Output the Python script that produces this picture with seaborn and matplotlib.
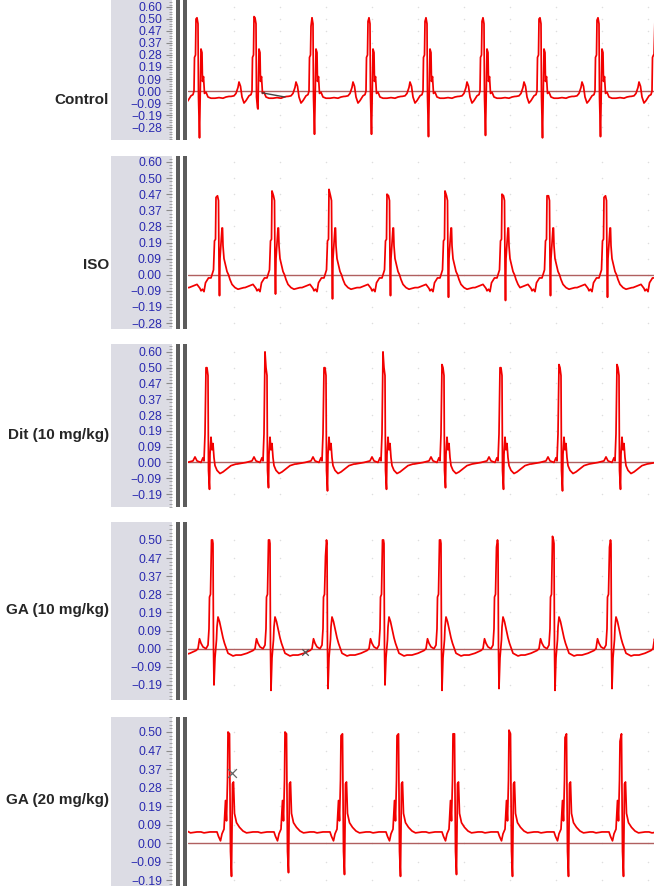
import numpy as np
import pandas as pd
import matplotlib.pyplot as plt
import seaborn as sns
from matplotlib.ticker import FixedLocator, AutoMinorLocator
from matplotlib.patches import Rectangle

sns.set_style("white")
plt.rcParams['font.family'] = ['Liberation Sans', 'DejaVu Sans']

# ---- data -------------------------------------------------------------
groups = ["Control", "ISO", "Dit (10 mg/kg)", "GA (10 mg/kg)", "GA (20 mg/kg)"]

# recorder tick labels, top to bottom (equally spaced on the screen)
labels_control = ["0.60", "0.50", "0.47", "0.37", "0.28", "0.19", "0.09", "0.00", "\u22120.09", "\u22120.19", "\u22120.28"]
labels_iso = ["0.60", "0.50", "0.47", "0.37", "0.28", "0.19", "0.09", "0.00", "\u22120.09", "\u22120.19", "\u22120.28"]
labels_dit = ["0.60", "0.50", "0.47", "0.37", "0.28", "0.19", "0.09", "0.00", "\u22120.09", "\u22120.19"]
labels_ga10 = ["0.50", "0.47", "0.37", "0.28", "0.19", "0.09", "0.00", "\u22120.09", "\u22120.19"]
labels_ga20 = ["0.50", "0.47", "0.37", "0.28", "0.19", "0.09", "0.00", "\u22120.09", "\u22120.19"]

# R-wave times (ms) for each trace
r_control = [-96, 18, 134, 248, 362, 476, 590, 704, 820, 934]
r_iso = [-54, 58, 170, 284, 400, 516, 630, 720, 834, 946]
r_dit = [-98, 38, 156, 274, 392, 510, 626, 744, 860, 976]
r_ga10 = [-66, 48, 162, 276, 390, 504, 618, 730, 844, 958]
r_ga20 = [-30, 82, 196, 308, 420, 532, 644, 756, 866, 978]

# R peak heights and S depths (in scale steps, 0.00 = 0)
rh_control = [6.0, 6.0, 6.2, 5.4, 5.8, 5.8, 5.8, 6.0, 5.9, 3.0]
sd_control = [-3.8, -3.9, -1.4, -3.6, -3.6, -3.8, -3.7, -3.9, -3.8, -3.8]
rh_iso = [4.8, 4.8, 5.2, 5.3, 5.0, 5.2, 5.0, 4.9, 4.8, 4.8]
sd_iso = [-1.3, -1.3, -1.2, -1.5, -1.3, -1.4, -1.6, -1.3, -1.4, -1.3]
rh_dit = [6.0, 6.0, 7.0, 6.0, 7.0, 6.2, 6.0, 6.2, 6.2, 6.0]
sd_dit = [-1.7, -1.7, -1.6, -1.8, -1.7, -1.6, -1.7, -1.8, -1.7, -1.7]
rh_ga10 = [6.0, 6.0, 6.0, 5.1, 6.0, 6.0, 5.6, 6.2, 5.6, 6.0]
sd_ga10 = [-2.2, -2.0, -2.3, -2.2, -2.0, -2.3, -2.2, -2.3, -2.2, -2.2]
rh_ga20 = [6.0, 6.0, 6.0, 5.8, 5.8, 5.9, 6.1, 5.7, 5.5, 6.0]
sd_ga20 = [-1.8, -1.8, -1.6, -1.7, -1.8, -1.7, -1.8, -1.8, -1.8, -1.8]

# one beat: offsets from R (ms) and level (scale steps)
tpl_t_control = [-48, -42, -38, -34, -32, -29, -26, -22, -18, -12, -8, -6, -5, -3, -2, 0, 2, 3, 5, 6, 7, 8, 10, 11, 13, 15, 18, 22, 28, 36, 44, 52, 58, 64]
tpl_v_control = [-0.45, -0.4, -0.2, 0.3, 0.75, 0.4, -0.5, -1.0, -0.8, -0.4, -0.3, 0.0, 2.8, 3.0, 6.0, 6.1, 5.6, -0.5, -3.8, -1.5, 1.0, 3.5, 3.2, 0.8, 1.2, -0.2, -0.1, -0.5, -0.6, -0.6, -0.55, -0.6, -0.5, -0.45]
tpl_t_iso = [-56, -48, -40, -34, -32, -29, -26, -23, -20, -17, -12, -9, -7, -5, -3, -2, 1, 3, 4, 5, 6, 8, 10, 11, 12, 14, 17, 20, 23, 26, 30, 36, 42, 48, 54]
tpl_v_iso = [-0.8, -0.7, -0.6, -0.85, -1.0, -0.9, -1.05, -0.5, -0.35, -0.2, -0.2, 0.1, 0.3, 2.1, 2.2, 4.8, 4.9, 4.6, 0.5, -1.3, 1.0, 2.0, 2.9, 2.9, 1.8, 1.0, 0.6, 0.2, 0.0, -0.3, -0.6, -0.8, -0.9, -0.85, -0.8]
tpl_t_dit = [-58, -40, -28, -24, -20, -12, -8, -6, -4, -2, 0, 2, 3, 5, 6, 8, 10, 12, 14, 16, 20, 26, 32, 40, 48, 58]
tpl_v_dit = [-0.1, 0.0, 0.1, 0.35, 0.1, 0.0, 0.3, 0.1, 1.8, 6.0, 6.0, 5.5, -0.5, -1.7, 0.5, 1.6, 0.8, 1.2, 0.3, -0.2, -0.5, -0.7, -0.6, -0.4, -0.2, -0.1]
tpl_t_ga10 = [-56, -44, -32, -28, -25, -22, -18, -12, -8, -6, -5, -3, -1, 1, 2, 3, 4, 6, 9, 10, 12, 15, 19, 22, 25, 32, 42, 48, 56]
tpl_v_ga10 = [-0.35, -0.25, -0.1, 0.0, 0.55, 0.3, 0.1, 0.0, 0.2, 1.1, 2.85, 3.0, 6.0, 6.0, 5.8, 0.0, -2.2, -0.5, 0.5, 1.2, 1.75, 1.5, 1.0, 0.6, 0.3, -0.25, -0.4, -0.35, -0.35]
tpl_t_ga20 = [-56, -50, -38, -24, -21, -17, -14, -10, -7, -5, -3, -2, 1, 3, 5, 7, 9, 11, 15, 21, 28, 35, 48, 54]
tpl_v_ga20 = [0.6, 0.55, 0.6, 0.6, 0.36, 0.12, 0.5, 0.75, 2.3, 1.2, 3.4, 6.0, 5.9, -0.45, -1.8, 3.2, 3.3, 1.6, 1.1, 0.85, 0.65, 0.55, 0.6, 0.6]

# which template point is the R peak / S trough
i_r = {"Control": 14, "ISO": 15, "Dit (10 mg/kg)": 9, "GA (10 mg/kg)": 12, "GA (20 mg/kg)": 11}
i_s = {"Control": 18, "ISO": 19, "Dit (10 mg/kg)": 13, "GA (10 mg/kg)": 16, "GA (20 mg/kg)": 14}

panels = {
    "Control": (labels_control, 7, r_control, rh_control, sd_control, tpl_t_control, tpl_v_control),
    "ISO": (labels_iso, 7, r_iso, rh_iso, sd_iso, tpl_t_iso, tpl_v_iso),
    "Dit (10 mg/kg)": (labels_dit, 7, r_dit, rh_dit, sd_dit, tpl_t_dit, tpl_v_dit),
    "GA (10 mg/kg)": (labels_ga10, 6, r_ga10, rh_ga10, sd_ga10, tpl_t_ga10, tpl_v_ga10),
    "GA (20 mg/kg)": (labels_ga20, 6, r_ga20, rh_ga20, sd_ga20, tpl_t_ga20, tpl_v_ga20),
}

# ---- layout (pixels) --------------------------------------------------
W, H = 654, 886
spans = [(0, 140, -4.08, 7.58), (156, 329, -3.37, 7.37), (344, 507, -2.82, 7.50),
         (522, 700, -2.83, 6.99), (717, 886, -2.32, 6.81)]
label_y = [100, 265, 435, 610, 800]


def build_trace(rt, rh, sd, tt, tv, ir, isd):
    rows = []
    for k, r in enumerate(rt):
        v = list(tv)
        v[ir] = rh[k]
        v[isd] = sd[k]
        nxt = rt[k + 1] + tt[0] if k + 1 < len(rt) else np.inf
        for dt, val in zip(tt, v):
            if r + dt < nxt:
                rows.append((r + dt, val))
    return pd.DataFrame(rows, columns=["time", "value"])


fig = plt.figure(figsize=(W / 100, H / 100), dpi=100)


def fr(x0, y0, x1, y1):
    return [x0 / W, 1 - y1 / H, (x1 - x0) / W, (y1 - y0) / H]


for g, (y0, y1, lo, hi), ly in zip(groups, spans, label_y):
    labels, top, rt, rh, sd, tt, tv = panels[g]
    pos = [top - i for i in range(len(labels))]

    # grey scale strip
    axg = fig.add_axes(fr(111, y0, 172, y1))
    axg.set_facecolor("#dcdce4")
    for s in axg.spines.values():
        s.set_visible(False)
    axg.set_xticks([])
    axg.set_ylim(lo, hi)
    axg.yaxis.tick_right()
    axg.yaxis.set_major_locator(FixedLocator(pos))
    axg.set_yticklabels(labels)
    axg.yaxis.set_minor_locator(AutoMinorLocator(5))
    axg.tick_params(axis="y", which="major", direction="in", length=4.5, width=0.8,
                    color="#8a8a8a", pad=-7.2, labelsize=8.7, labelcolor="#2a2ab0")
    axg.tick_params(axis="y", which="minor", direction="in", length=2.3, width=0.6, color="#9a9a9a")
    for t in axg.get_yticklabels():
        t.set_horizontalalignment("right")

    # two dark bars
    for bx in (176, 183):
        fig.add_artist(Rectangle((bx / W, 1 - y1 / H), 4 / W, (y1 - y0) / H,
                                 transform=fig.transFigure, facecolor="#5c5c5c", edgecolor="none"))

    # trace
    ax = fig.add_axes(fr(188, y0, 654, y1))
    for s in ax.spines.values():
        s.set_visible(False)
    ax.set_xlim(0, 932)
    ax.set_ylim(lo, hi)
    gx, gy = np.meshgrid(np.arange(92, 932, 92), pos)
    ax.scatter(gx.ravel(), gy.ravel(), s=1.2, color="#dedede", linewidths=0, zorder=1)
    ax.axhline(0, color="#b06060", lw=1.0, zorder=2)
    df = build_trace(rt, rh, sd, tt, tv, i_r[g], i_s[g])
    sns.lineplot(data=df, x="time", y="value", ax=ax, estimator=None, sort=False,
                 color="#f20000", lw=1.25, zorder=3)
    ax.set_xticks([])
    ax.set_yticks([])
    ax.set_xlabel("")
    ax.set_ylabel("")

    if g == "Control":
        ax.plot([148, 194], [-0.15, -0.5], color="#444444", lw=1.0, zorder=4)
    if g == "GA (10 mg/kg)":
        ax.scatter([234], [-0.17], marker="x", s=22, color="#555555", linewidths=0.9, zorder=4)
    if g == "GA (20 mg/kg)":
        ax.scatter([88], [3.8], marker="x", s=40, color="#666666", linewidths=0.9, zorder=4)

    fig.text(109 / W, 1 - ly / H, g, ha="right", va="center", fontsize=11, fontweight="bold")

fig.savefig("out.png", dpi=100)
